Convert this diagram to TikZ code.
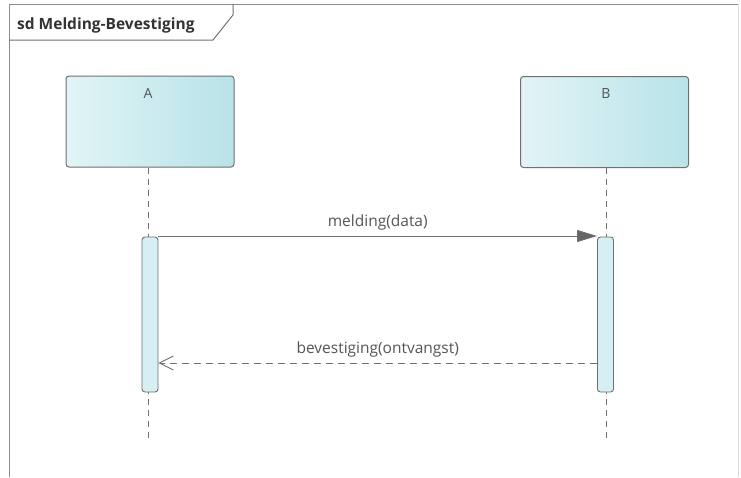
\documentclass[tikz,border=0pt]{standalone}
\usepackage{fontspec}
\setmainfont{Open Sans}
\usetikzlibrary{arrows.meta}
\definecolor{linegray}{HTML}{707070}
\definecolor{txtgray}{HTML}{555555}
\definecolor{boxleft}{HTML}{E2F4F6}
\definecolor{boxright}{HTML}{B8E3E8}
\begin{document}
\begin{tikzpicture}[x=1pt,y=-1pt,
  lifebox/.style={draw=linegray, line width=1pt, rounded corners=3pt, left color=boxleft, right color=boxright, minimum width=168pt, minimum height=91pt, inner sep=0pt},
  actbox/.style={draw=linegray, line width=0.9pt, rounded corners=3pt, fill=boxleft!70!boxright, minimum width=16pt, minimum height=155pt, inner sep=0pt},
  lifeline/.style={draw=linegray, line width=0.9pt, dash pattern=on 6pt off 5pt},
  msg/.style={draw=linegray, line width=0.9pt},
  lbl/.style={text=txtgray, font=\fontsize{15.5}{18}\selectfont, inner sep=1pt}
]
\useasboundingbox (0,0) rectangle (741,477);
\fill[white] (0,0) rectangle (741,477);
% frame
\draw[linegray!80, line width=1pt] (9,477) -- (9,4) -- (738,4);
\draw[linegray!25, line width=1pt] (738,4) -- (738,477);
\draw[linegray, line width=1pt] (9,40) -- (213,40) -- (233,15) -- (233,4);
\node[anchor=west, text=black!80, font=\bfseries\fontsize{15.5}{18}\selectfont, inner sep=0pt] (title) at (17,25) {sd Melding-Bevestiging};
% lifelines
\node[lifebox] (A) at (150,121.5) {};
\node[lifebox] (B) at (604.5,122) {};
\node[lbl, anchor=center, font=\fontsize{14}{16}\selectfont] (Alab) at (148,93) {A};
\node[lbl, anchor=center, font=\fontsize{14}{16}\selectfont] (Blab) at (606,93) {B};
\coordinate (Aend) at (148,440);
\coordinate (Bend) at (606,440);
\draw[lifeline] (A.south -| Aend) -- (Aend);
\draw[lifeline] (B.south -| Bend) -- (Bend);
% activations
\node[actbox] (actA) at (150,314.5) {};
\node[actbox] (actB) at (605.5,314.5) {};
% messages
\coordinate (m1s) at (158,236);
\coordinate (m1e) at (597,236);
\draw[msg, -{Triangle[length=20pt,width=12pt,fill=black!60]}] (actA.east |- m1s) -- (actB.west |- m1e) node[lbl, midway, above=4pt] (l1) {melding(data)};
\coordinate (m2) at (0,363);
\draw[msg, dash pattern=on 7pt off 5pt, -{Straight Barb[length=14pt,width=14pt,line width=0.9pt]}] (actB.west |- m2) -- (actA.east |- m2) node[lbl, midway, above=4pt] (l2) {bevestiging(ontvangst)};
\end{tikzpicture}
\end{document}
